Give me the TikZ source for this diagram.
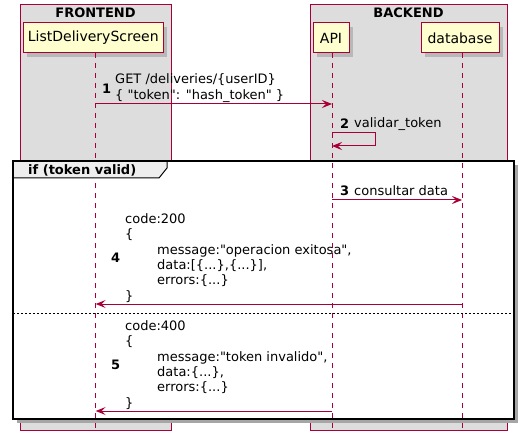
\documentclass[tikz,border=0pt]{standalone}
\usepackage{fontspec}
\setmainfont{DejaVu Sans}[Ligatures=TeXOff]
\usetikzlibrary{arrows.meta}
\definecolor{puml}{HTML}{A80036}
\definecolor{partfill}{HTML}{FEFECE}
\definecolor{boxfill}{HTML}{DDDDDD}
\definecolor{tabfill}{HTML}{EEEEEE}
\begin{document}
\begin{tikzpicture}[x=1bp,y=-1bp,
  msgfont/.style={font=\fontsize{13bp}{15.3bp}\selectfont},
  part/.style={draw=puml,fill=partfill,line width=1bp,minimum height=30bp,inner sep=0pt,font=\fontsize{14bp}{16bp}\selectfont},
  shad/.style={fill=black!28},
  lifeline/.style={draw=puml,line width=0.9bp,dash pattern=on 5bp off 5bp},
  msg/.style={draw=puml,line width=1bp,-{Stealth[length=10bp,width=8bp,inset=4bp]}},
  num/.style={font=\fontsize{13bp}{15bp}\selectfont\bfseries,inner sep=0pt,anchor=west},
  txt/.style={msgfont,inner sep=0pt,anchor=west,align=left},
  boxtitle/.style={font=\fontsize{13bp}{15bp}\selectfont\bfseries,inner sep=0pt}
]
\useasboundingbox (0,0) rectangle (524,447);
% boxes
\filldraw[fill=boxfill,draw=puml,line width=0.8bp] (20,4) rectangle (171,430);
\filldraw[fill=boxfill,draw=puml,line width=0.8bp] (310,4) rectangle (507,430);
\node[boxtitle] (tfront) at (95.5,12.5) {FRONTEND};
\node[boxtitle] (tback) at (408.5,12.5) {BACKEND};
% participant shadows
\fill[shad] (27,27) rectangle (167,57);
\fill[shad] (317,27) rectangle (353,57);
\fill[shad] (425,27) rectangle (503,57);
% participants
\node[part,minimum width=140bp] (lds) at (93.3,38) {ListDeliveryScreen};
\node[part,minimum width=36bp] (api) at (331,38) {API};
\node[part,minimum width=78bp] (db) at (460,38) {database};
% frame
\fill[black!35] (17,165) rectangle (518,423);
\fill[white] (13,161) rectangle (514,419);
% lifelines
\coordinate (ldsb) at (95.7,433);
\coordinate (apib) at (332,433);
\coordinate (dbb) at (462,433);
\draw[lifeline] (95.7,53) -- (ldsb);
\draw[lifeline] (332,53) -- (apib);
\draw[lifeline] (462,53) -- (dbb);
% frame border and tab
\filldraw[fill=tabfill,draw=black,line width=1bp] (13,161) -- (167,161) -- (167,168) -- (159,178) -- (13,178);
\draw[black,line width=1.5bp] (13,161) rectangle (514,419);
\node[boxtitle,anchor=west] (alt) at (28,170) {if (token valid)};
\coordinate (sepl) at (13,313);
\coordinate (sepr) at (514,313);
\draw[black,line width=0.6bp,dash pattern=on 2bp off 2bp] (sepl) -- (sepr);
% message 1
\coordinate (m1a) at (95.7,104);
\coordinate (m1b) at (332,104);
\draw[msg] (m1a) -- (m1b);
\node[num] (n1) at (102,88.5) {1};
\node[txt] (t1) at (115,88) {GET /deliveries/\{userID\}\\\{ "token": "hash\_token" \}};
% message 2
\coordinate (m2a) at (332,133);
\coordinate (m2b) at (332,146);
\draw[msg] (m2a) -- (375,133) -- (375,146) -- (m2b);
\node[num] (n2) at (340,124) {2};
\node[txt] (t2) at (354,124) {validar\_token};
% message 3
\coordinate (m3a) at (332,200);
\coordinate (m3b) at (462,200);
\draw[msg] (m3a) -- (m3b);
\node[num] (n3) at (340,191) {3};
\node[txt] (t3) at (354,191) {consultar data};
% message 4
\coordinate (m4a) at (462,304);
\coordinate (m4b) at (95.7,304);
\draw[msg] (m4a) -- (m4b);
\node[num] (n4) at (111,258) {4};
\node[txt] (t4) at (125,258) {code:200\\\{\\\hspace*{32bp}message:"operacion exitosa",\\\hspace*{32bp}data:[\{...\},\{...\}],\\\hspace*{32bp}errors:\{...\}\\\}};
% message 5
\coordinate (m5a) at (332,411);
\coordinate (m5b) at (95.7,411);
\draw[msg] (m5a) -- (m5b);
\node[num] (n5) at (111,365) {5};
\node[txt] (t5) at (125,365) {code:400\\\{\\\hspace*{32bp}message:"token invalido",\\\hspace*{32bp}data:\{...\},\\\hspace*{32bp}errors:\{...\}\\\}};
\end{tikzpicture}
\end{document}
